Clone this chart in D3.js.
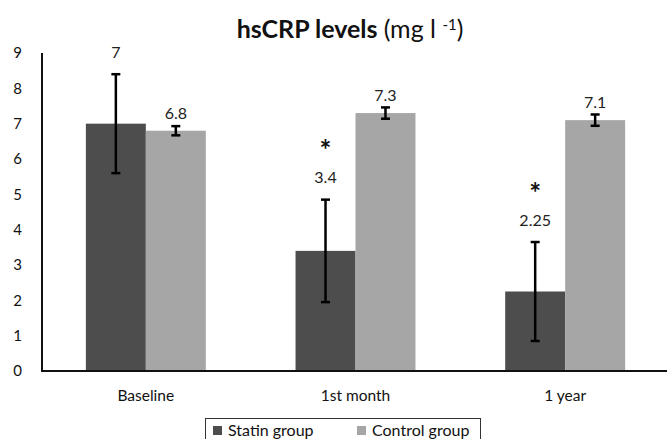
<!DOCTYPE html>
<html>
<head>
<meta charset="utf-8">
<script src="https://cdn.jsdelivr.net/npm/d3@7"></script>
<style>
  body { margin: 0; background: #fff; }
  svg { display: block; font-family: Lato, 'Open Sans', sans-serif; }
</style>
</head>
<body>
<svg id="chart" width="667" height="439"></svg>
<script>
const categories = ['Baseline', '1st month', '1 year'];
const seriesNames = ['Statin group', 'Control group'];
const statinValues = [7, 3.4, 2.25];
const controlValues = [6.8, 7.3, 7.1];
const statinErrors = [1.4, 1.45, 1.4];
const controlErrors = [0.13, 0.16, 0.16];
const statinLabels = ['7', '3.4', '2.25'];
const controlLabels = ['6.8', '7.3', '7.1'];
const significant = [false, true, true];
const yTicks = [0, 1, 2, 3, 4, 5, 6, 7, 8, 9];

const colors = ['#4d4d4d', '#a6a6a6'];

const svg = d3.select('#chart');
const margin = { left: 42, right: 0, top: 53, bottom: 68 };
const width = 667;
const height = 439;

const y = d3.scaleLinear().domain([0, 9]).range([height - margin.bottom, margin.top]);
const x0 = d3.scaleBand()
    .domain(categories)
    .range([41, 670])
    .paddingInner(0.428)
    .paddingOuter(0.214);
const x1 = d3.scaleBand().domain(seriesNames).range([0, x0.bandwidth()]);

const rows = categories.map((c, i) => ({
    cat: c,
    bars: [
        { name: seriesNames[0], value: statinValues[i], err: statinErrors[i], label: statinLabels[i], sig: significant[i], off: 22 },
        { name: seriesNames[1], value: controlValues[i], err: controlErrors[i], label: controlLabels[i], sig: false, off: 12.5 },
    ],
}));

// title
const title = svg.append('text')
    .attr('x', 350)
    .attr('y', 38)
    .attr('text-anchor', 'middle')
    .style('font-size', '25px')
    .style('fill', '#111');
title.append('tspan').style('font-weight', 700).text('hsCRP levels ');
title.append('tspan').text('(mg l ');
title.append('tspan').attr('dy', -8).style('font-size', '15px').text('-1');
title.append('tspan').attr('dy', 8).text(')');

// y tick labels
svg.append('g')
    .selectAll('text')
    .data(yTicks)
    .enter()
    .append('text')
    .attr('x', 22)
    .attr('y', d => y(d))
    .attr('dy', '0.35em')
    .attr('text-anchor', 'end')
    .style('font-size', '15px')
    .style('fill', '#111')
    .text(d => d);

const groups = svg.append('g')
    .selectAll('g')
    .data(rows)
    .enter()
    .append('g')
    .attr('transform', d => `translate(${x0(d.cat)},0)`);

const bar = groups.selectAll('g')
    .data(d => d.bars)
    .enter()
    .append('g');

bar.append('rect')
    .attr('x', d => x1(d.name))
    .attr('width', x1.bandwidth())
    .attr('y', d => y(d.value))
    .attr('height', d => y(0) - y(d.value))
    .attr('fill', (d, i) => colors[i]);

// error bars
const cx = d => x1(d.name) + x1.bandwidth() / 2;
bar.append('line')
    .attr('x1', cx).attr('x2', cx)
    .attr('y1', d => y(d.value + d.err))
    .attr('y2', d => y(d.value - d.err))
    .attr('stroke', '#000')
    .attr('stroke-width', 2.5);
[1, -1].forEach(s => {
    bar.append('line')
        .attr('x1', d => cx(d) - 4.5)
        .attr('x2', d => cx(d) + 4.5)
        .attr('y1', d => y(d.value + s * d.err))
        .attr('y2', d => y(d.value + s * d.err))
        .attr('stroke', '#000')
        .attr('stroke-width', 2.5);
});

// value labels
bar.append('text')
    .attr('x', cx)
    .attr('y', d => y(d.value + d.err) - d.off)
    .attr('dy', '0.35em')
    .attr('text-anchor', 'middle')
    .style('font-size', '16px')
    .style('fill', '#222')
    .text(d => d.label);

bar.filter(d => d.sig)
    .append('text')
    .attr('x', cx)
    .attr('y', d => y(d.value + d.err) - d.off - 37)
    .attr('dy', '0.7em')
    .attr('text-anchor', 'middle')
    .style('font-size', '28px')
    .style('font-weight', 700)
    .style('fill', '#111')
    .text('*');

// axes lines
svg.append('line')
    .attr('x1', margin.left).attr('x2', margin.left)
    .attr('y1', y(9)).attr('y2', y(0) + 1)
    .attr('stroke', '#111').attr('stroke-width', 2);
svg.append('line')
    .attr('x1', margin.left - 1).attr('x2', width)
    .attr('y1', y(0)).attr('y2', y(0))
    .attr('stroke', '#111').attr('stroke-width', 2);

// x labels
svg.append('g')
    .selectAll('text')
    .data(categories)
    .enter()
    .append('text')
    .attr('x', d => x0(d) + x0.bandwidth() / 2)
    .attr('y', 396)
    .attr('dy', '0.35em')
    .attr('text-anchor', 'middle')
    .style('font-size', '15.5px')
    .style('fill', '#111')
    .text(d => d);

// legend
const legend = svg.append('g');
legend.append('rect')
    .attr('x', 205.5).attr('y', 418.5)
    .attr('width', 275).attr('height', 26)
    .attr('fill', '#fff')
    .attr('stroke', '#333')
    .attr('stroke-width', 1);
const legendX = [213, 357];
seriesNames.forEach((name, i) => {
    legend.append('rect')
        .attr('x', legendX[i]).attr('y', 426)
        .attr('width', 9).attr('height', 9)
        .attr('fill', colors[i]);
    legend.append('text')
        .attr('x', legendX[i] + 15)
        .attr('y', 430)
        .attr('dy', '0.35em')
        .style('font-size', '16px')
        .style('fill', '#111')
        .text(name);
});
</script>
</body>
</html>
